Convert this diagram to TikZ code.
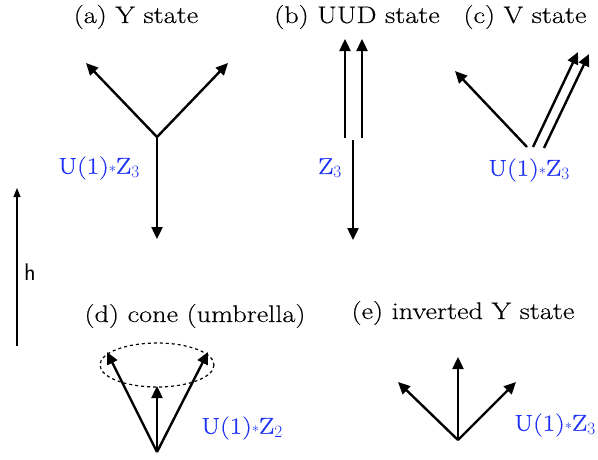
\documentclass[tikz,border=0pt]{standalone}
\usepackage{fontspec}
\setmainfont{Latin Modern Roman}[FakeStretch=1.18,FakeBold=0.4]
\usetikzlibrary{arrows.meta}
\definecolor{lblue}{RGB}{30,50,245}
\newcommand{\smallstar}{\raisebox{1pt}{\fontsize{15}{15}\selectfont$\ast$}}
\begin{document}
\begin{tikzpicture}[x=1pt,y=-1pt,
  spin/.style={line width=2.4pt,-{Triangle[length=12pt,width=11pt]}},
  title/.style={font=\fontsize{24}{27}\selectfont, inner sep=0pt},
  sym/.style={font=\fontsize{23}{26}\selectfont, text=lblue, inner sep=0pt}]
\useasboundingbox (0,0) rectangle (598,459);
% h field arrow
\coordinate (h0) at (17,346);
\coordinate (h1) at (17,188);
\draw[line width=1.2pt,-{Triangle[length=9pt,width=7pt]}] (h0) -- (h1);
\node[font=\sffamily\fontsize{24}{27}\selectfont, inner sep=0pt] (hl) at (30,272) {h};
% (a) Y state
\node[title] (ta) at (136,17) {(a) Y state};
\coordinate (ac) at (157,137);
\coordinate (a1) at (86,63);
\coordinate (a2) at (228,63);
\coordinate (a3) at (157,239);
\draw[spin] (ac) -- (a1);
\draw[spin] (ac) -- (a2);
\draw[spin] (ac) -- (a3);
\node[sym] (sa) at (99,168) {U(1)\smallstar Z$_3$};
% (b) UUD state
\node[title] (tb) at (357,17) {(b) UUD state};
\coordinate (b1s) at (345,138); \coordinate (b1e) at (345,39);
\coordinate (b2s) at (362,138); \coordinate (b2e) at (362,39);
\coordinate (b3s) at (353,140); \coordinate (b3e) at (353,240);
\draw[spin] (b1s) -- (b1e);
\draw[spin] (b2s) -- (b2e);
\draw[spin] (b3s) -- (b3e);
\node[sym] (sb) at (330,168) {Z$_3$};
% (c) V state
\node[title] (tc) at (525,17) {(c) V state};
\coordinate (c1s) at (527,147); \coordinate (c1e) at (455,71);
\coordinate (c2s) at (533,147); \coordinate (c2e) at (578,52);
\coordinate (c3s) at (544,148); \coordinate (c3e) at (589,54);
\draw[spin] (c1s) -- (c1e);
\draw[spin] (c2s) -- (c2e);
\draw[spin] (c3s) -- (c3e);
\node[sym] (sc) at (529,170) {U(1)\smallstar Z$_3$};
% (d) cone
\node[title] (td) at (195,316) {(d) cone (umbrella)};
\draw[line width=1.2pt, dash pattern=on 3pt off 3pt] (157,365) ellipse [x radius=57, y radius=22];
\coordinate (d0) at (157,452);
\coordinate (d1) at (107,352);
\coordinate (d2) at (208,352);
\coordinate (d3) at (157,386);
\draw[spin] (d0) -- (d1);
\draw[spin] (d0) -- (d2);
\draw[spin] (d0) -- (d3);
\node[sym] (sd) at (242,428) {U(1)\smallstar Z$_2$};
% (e) inverted Y
\node[title] (te) at (463,313) {(e) inverted Y state};
\coordinate (e0) at (458,440);
\coordinate (e1) at (458,357);
\coordinate (e2) at (398,382);
\coordinate (e3) at (516,382);
\draw[spin] (e0) -- (e1);
\draw[spin] (e0) -- (e2);
\draw[spin] (e0) -- (e3);
\node[sym] (se) at (555,425) {U(1)\smallstar Z$_3$};
\end{tikzpicture}
\end{document}
